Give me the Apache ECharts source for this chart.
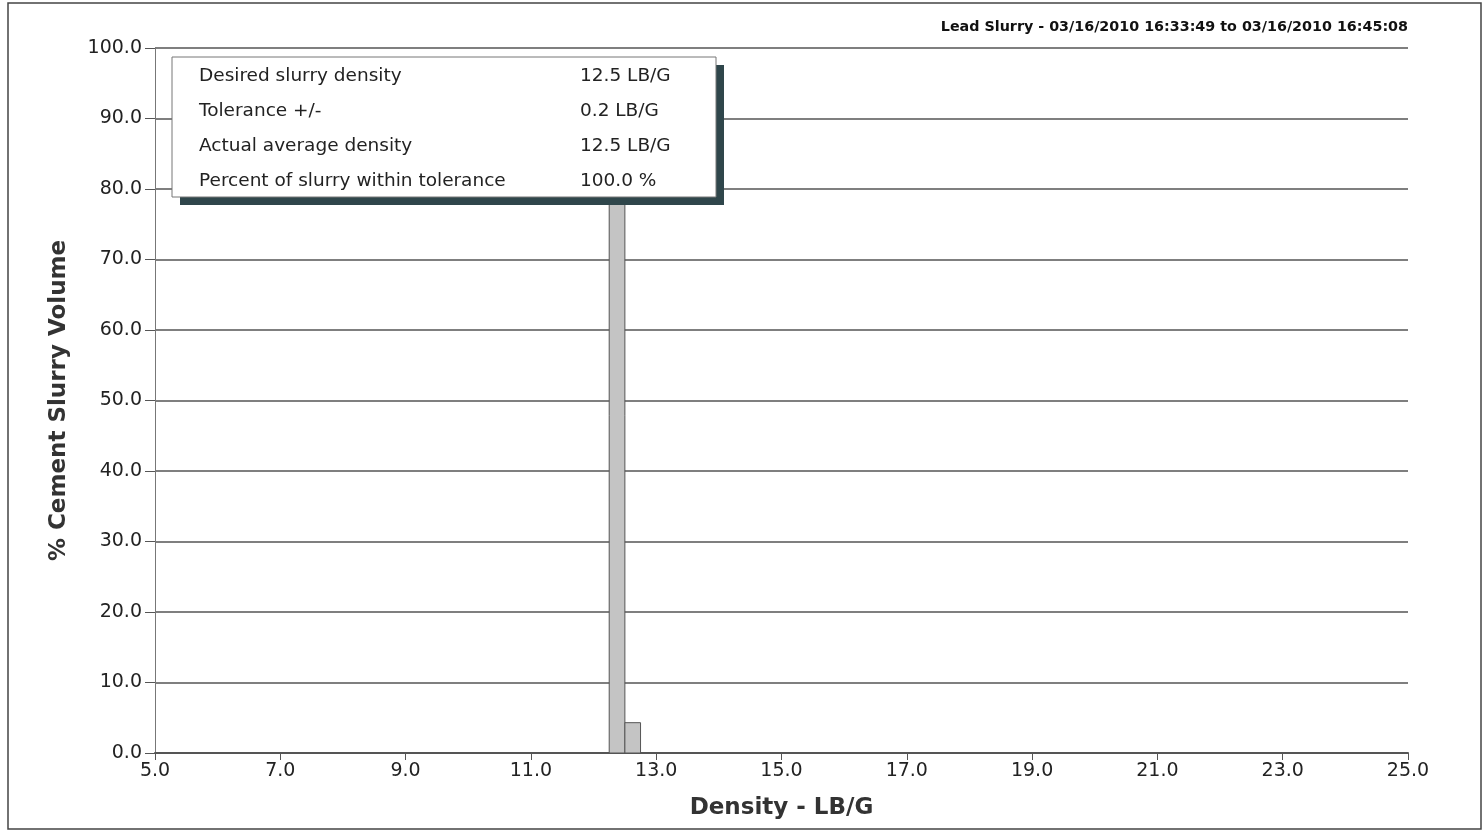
<!DOCTYPE html>
<html>
<head>
<meta charset="utf-8">
<script src="https://cdn.jsdelivr.net/npm/echarts@6/dist/echarts.min.js"></script>
<style>
html,body{margin:0;padding:0;background:#fff;}
#chart{width:1484px;height:833px;}
</style>
</head>
<body>
<div id="chart"></div>
<script>
// Data
var binStart = [12.25, 12.5];
var binEnd = [12.5, 12.75];
var binValue = [95.7, 4.3];
var infoLabels = ['Desired slurry density', 'Tolerance +/-', 'Actual average density', 'Percent of slurry within tolerance'];
var infoValues = ['12.5 LB/G', '0.2 LB/G', '12.5 LB/G', '100.0 %'];
var titleText = 'Lead Slurry - 03/16/2010 16:33:49 to 03/16/2010 16:45:08';
var xTitle = 'Density - LB/G';
var yTitle = '% Cement Slurry Volume';

var FONT = 'DejaVu Sans';
var chart = echarts.init(document.getElementById('chart'));

var seriesData = binStart.map(function (s, i) { return [s, binEnd[i], binValue[i]]; });

var infoGraphics = [];
infoGraphics.push({type:'rect', shape:{x:180,y:65,width:544,height:140}, style:{fill:'#2f464b'}, z:100});
infoGraphics.push({type:'rect', shape:{x:172,y:57,width:544,height:140}, style:{fill:'#ffffff', stroke:'#777', lineWidth:1}, z:101});
infoLabels.forEach(function (t, i) {
  infoGraphics.push({type:'text', x:199, y:76 + i*35.2, style:{text:t, font:'18.5px "' + FONT + '"', fill:'#222', textVerticalAlign:'middle'}, z:102});
  infoGraphics.push({type:'text', x:580, y:76 + i*35.2, style:{text:infoValues[i], font:'18.5px "' + FONT + '"', fill:'#222', textVerticalAlign:'middle'}, z:102});
});
infoGraphics.push({type:'rect', shape:{x:8,y:3,width:1473,height:826}, style:{fill:'none', stroke:'#444', lineWidth:1.5}, z:1});

chart.setOption({
  animation: false,
  backgroundColor: '#fff',
  title: {
    text: titleText,
    right: 76, top: 20, padding: 0,
    textStyle: {fontFamily: FONT, fontSize: 14.3, fontWeight: 'bold', color: '#111'}
  },
  grid: {left: 155, right: 76, top: 48, bottom: 80},
  xAxis: {
    type: 'value', min: 5, max: 25, interval: 2,
    name: xTitle, nameLocation: 'middle', nameGap: 44,
    nameTextStyle: {fontFamily: FONT, fontSize: 23, fontWeight: 'bold', color: '#333'},
    axisLine: {show: true, onZero: false, lineStyle: {color: '#555', width: 2}},
    axisTick: {show: true, length: 7, lineStyle: {color: '#555'}},
    axisLabel: {fontFamily: FONT, fontSize: 19, color: '#222', margin: 9, formatter: function (v) { return v.toFixed(1); }},
    splitLine: {show: false}
  },
  yAxis: {
    type: 'value', min: 0, max: 100, interval: 10,
    name: yTitle, nameLocation: 'middle', nameGap: 84,
    nameTextStyle: {fontFamily: FONT, fontSize: 23, fontWeight: 'bold', color: '#333'},
    axisLine: {show: true, lineStyle: {color: '#777', width: 1}},
    axisTick: {show: true, length: 10, lineStyle: {color: '#555'}},
    axisLabel: {fontFamily: FONT, fontSize: 19, color: '#222', margin: 13, formatter: function (v) { return v.toFixed(1); }},
    splitLine: {show: true, lineStyle: {color: '#555', width: 1.5}}
  },
  series: [{
    type: 'custom',
    data: seriesData,
    encode: {x: [0, 1], y: 2},
    z: 5,
    renderItem: function (params, api) {
      var p0 = api.coord([api.value(0), api.value(2)]);
      var p1 = api.coord([api.value(1), 0]);
      return {
        type: 'rect',
        shape: {x: p0[0], y: p0[1], width: p1[0] - p0[0], height: p1[1] - p0[1]},
        style: {fill: '#c4c4c4', stroke: '#555', lineWidth: 1}
      };
    }
  }],
  graphic: infoGraphics
});
</script>
</body>
</html>
